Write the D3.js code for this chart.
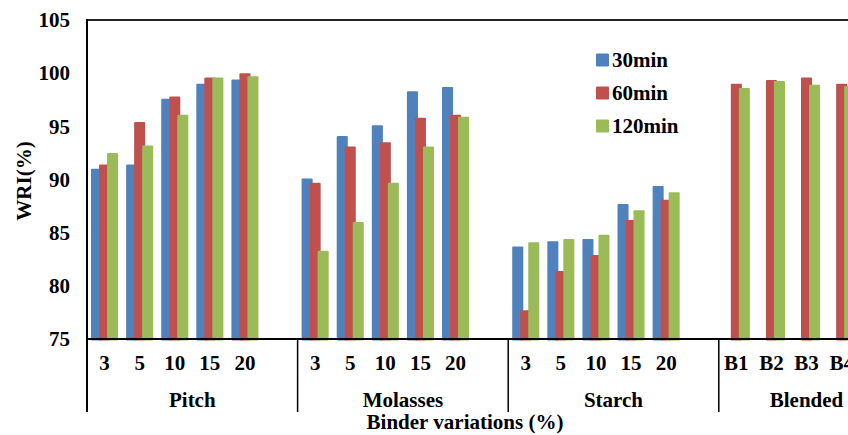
<!DOCTYPE html>
<html><head><meta charset="utf-8">
<script src="https://cdn.jsdelivr.net/npm/d3@7"></script>
<style>
html,body{margin:0;padding:0;background:#fff;}
svg text{font-family:"Liberation Serif","Times New Roman",serif;font-weight:bold;fill:#000;}
</style></head>
<body><svg id="c" width="848" height="435"></svg>
<script>
// ---- data ----
const groups = ["Pitch", "Molasses", "Starch", "Blended"];
const pitchLevels = ["3", "5", "10", "15", "20"];
const molassesLevels = ["3", "5", "10", "15", "20"];
const starchLevels = ["3", "5", "10", "15", "20"];
const blendedLevels = ["B1", "B2", "B3", "B4"];
const seriesNames = ["30min", "60min", "120min"];
const seriesColors = ["#4F81BD", "#C0504D", "#9BBB59"];
const yTicks = [75, 80, 85, 90, 95, 100, 105];

const pitch30 = [91.0, 91.4, 97.6, 99.0, 99.4];
const pitch60 = [91.4, 95.4, 97.8, 99.6, 100.0];
const pitch120 = [92.5, 93.2, 96.1, 99.6, 99.7];
const molasses30 = [90.1, 94.1, 95.1, 98.3, 98.7];
const molasses60 = [89.7, 93.1, 93.5, 95.8, 96.1];
const molasses120 = [83.3, 86.0, 89.7, 93.1, 95.9];
const starch30 = [83.7, 84.2, 84.4, 87.7, 89.4];
const starch60 = [77.7, 81.4, 82.9, 86.2, 88.1];
const starch120 = [84.1, 84.4, 84.8, 87.1, 88.8];
const blended30 = [null, null, null, null];
const blended60 = [99.0, 99.35, 99.6, 99.0];
const blended120 = [98.6, 99.27, 98.9, 98.8];

// ---- build slots (each group followed by an empty slot) ----
const groupLevels = [pitchLevels, molassesLevels, starchLevels, blendedLevels];
const groupValues = [
  [pitch30, pitch60, pitch120],
  [molasses30, molasses60, molasses120],
  [starch30, starch60, starch120],
  [blended30, blended60, blended120]
];
const slots = [];
groups.forEach((g, gi) => {
  groupLevels[gi].forEach((lv, li) => {
    slots.push({id: g + "|" + lv, label: lv, group: gi,
      values: groupValues[gi].map(s => s[li])});
  });
  slots.push({id: g + "|blank", label: "", group: gi, values: [null, null, null]});
});

// ---- layout ----
const FS = "21px";
const svg = d3.select("#c");
const mLeft = 87, mTop = 20, mBottom = 339;
const slotW = 35.1;
const x = d3.scaleBand().domain(slots.map(d => d.id))
  .range([mLeft, mLeft + slotW * slots.length]).padding(0);
const y = d3.scaleLinear().domain([75, 105]).range([mBottom, mTop]);

const bw = x.bandwidth();
const barW = bw * 0.315;
const step = bw * 0.228;
const span = barW + 2 * step;

// bars
seriesNames.forEach((s, si) => {
  svg.append("g").selectAll("rect")
    .data(slots.filter(d => d.values[si] != null))
    .join("rect")
    .attr("x", d => x(d.id) + (bw - span) / 2 + si * step)
    .attr("y", d => y(d.values[si]))
    .attr("width", barW)
    .attr("height", d => y(75) - y(d.values[si]) + 1.5)
    .attr("rx", 1)
    .attr("fill", seriesColors[si]);
});

// y axis
const yAxis = d3.axisLeft(y).tickValues(yTicks).tickSize(0).tickPadding(17);
const gy = svg.append("g").attr("transform", `translate(${mLeft},0)`).call(yAxis);
gy.select(".domain").remove();
gy.attr("font-family", null).attr("font-size", null);
gy.selectAll("text").style("font-size", FS);

// x axis (category labels)
const xAxis = d3.axisBottom(x).tickSize(0).tickPadding(16)
  .tickFormat(id => slots.find(s => s.id === id).label);
const gx = svg.append("g").attr("transform", `translate(0,${mBottom})`).call(xAxis);
gx.select(".domain").remove();
gx.attr("font-family", null).attr("font-size", null);
gx.selectAll("text").style("font-size", FS);

// frame lines
svg.append("line").attr("x1", mLeft).attr("x2", 848).attr("y1", mTop).attr("y2", mTop)
  .attr("stroke", "#222").attr("stroke-width", 2);
svg.append("line").attr("x1", mLeft).attr("x2", 848).attr("y1", mBottom).attr("y2", mBottom)
  .attr("stroke", "#000").attr("stroke-width", 2);
svg.append("line").attr("x1", mLeft).attr("x2", mLeft).attr("y1", mTop - 1).attr("y2", 412)
  .attr("stroke", "#000").attr("stroke-width", 2);

// group dividers + labels
groups.forEach((g, gi) => {
  const ids = slots.filter(s => s.group === gi).map(s => s.id);
  const x0 = x(ids[0]), x1 = x(ids[ids.length - 1]) + bw;
  if (gi > 0) {
    svg.append("line").attr("x1", x0).attr("x2", x0).attr("y1", mBottom).attr("y2", 412)
      .attr("stroke", "#000").attr("stroke-width", 1.5);
  }
  svg.append("text").attr("x", (x0 + x1) / 2).attr("y", 407)
    .attr("text-anchor", "middle").style("font-size", FS).text(g);
});

// axis titles
svg.append("text").attr("x", 465).attr("y", 429).attr("text-anchor", "middle")
  .style("font-size", FS).text("Binder variations (%)");
svg.append("text").attr("transform", "translate(31,181) rotate(-90)")
  .attr("text-anchor", "middle").style("font-size", FS).text("WRI(%)");

// legend
const lg = svg.append("g");
seriesNames.forEach((s, i) => {
  const yy = 53.5 + i * 33;
  lg.append("rect").attr("x", 596).attr("y", yy).attr("width", 13).attr("height", 13)
    .attr("rx", 1).attr("fill", seriesColors[i]);
  lg.append("text").attr("x", 612).attr("y", yy + 13.5).style("font-size", FS).text(s);
});
</script></body></html>
